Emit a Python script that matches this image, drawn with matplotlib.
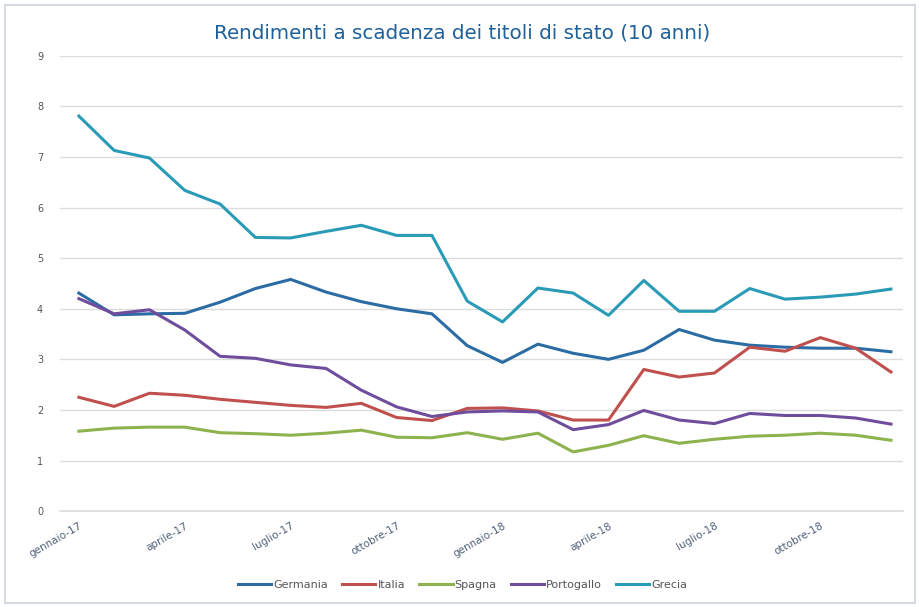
import matplotlib
matplotlib.use("Agg")
import matplotlib.pyplot as plt
from matplotlib.patches import Rectangle

months = ["gennaio-17", "febbraio-17", "marzo-17", "aprile-17", "maggio-17", "giugno-17",
          "luglio-17", "agosto-17", "settembre-17", "ottobre-17", "novembre-17", "dicembre-17",
          "gennaio-18", "febbraio-18", "marzo-18", "aprile-18", "maggio-18", "giugno-18",
          "luglio-18", "agosto-18", "settembre-18", "ottobre-18", "novembre-18", "dicembre-18"]

germania = [4.31, 3.88, 3.90, 3.91, 4.13, 4.40, 4.58, 4.33, 4.14, 4.00, 3.90, 3.27,
            2.94, 3.30, 3.12, 3.00, 3.18, 3.59, 3.38, 3.28, 3.24, 3.22, 3.22, 3.15]
italia = [2.25, 2.07, 2.33, 2.29, 2.21, 2.15, 2.09, 2.05, 2.13, 1.85, 1.79, 2.03,
          2.04, 1.98, 1.80, 1.80, 2.80, 2.65, 2.73, 3.24, 3.16, 3.43, 3.22, 2.75]
spagna = [1.58, 1.64, 1.66, 1.66, 1.55, 1.53, 1.50, 1.54, 1.60, 1.46, 1.45, 1.55,
          1.42, 1.54, 1.17, 1.30, 1.49, 1.34, 1.42, 1.48, 1.50, 1.54, 1.50, 1.40]
portogallo = [4.20, 3.90, 3.98, 3.58, 3.06, 3.02, 2.89, 2.82, 2.39, 2.06, 1.87, 1.96,
              1.98, 1.96, 1.61, 1.71, 1.99, 1.80, 1.73, 1.93, 1.89, 1.89, 1.84, 1.72]
grecia = [7.81, 7.13, 6.98, 6.34, 6.07, 5.41, 5.40, 5.53, 5.65, 5.45, 5.45, 4.15,
          3.74, 4.41, 4.31, 3.87, 4.56, 3.95, 3.95, 4.40, 4.19, 4.23, 4.29, 4.39]

series = [("Germania", germania, "#2C6CA4"),
          ("Italia", italia, "#C0504D"),
          ("Spagna", spagna, "#8DB24E"),
          ("Portogallo", portogallo, "#6E4E9C"),
          ("Grecia", grecia, "#2A9BB6")]

fig = plt.figure(figsize=(9.2, 6.07), dpi=100)
fig.patches.append(Rectangle((0.005, 0.006), 0.99, 0.985, transform=fig.transFigure,
                             fill=False, edgecolor="#D3DAE2", linewidth=1.5))
ax = fig.add_axes([0.065, 0.158, 0.9165, 0.75])

x = list(range(len(months)))
for name, vals, col in series:
    ax.plot(x, vals, color=col, linewidth=2.2, label=name, solid_joinstyle="round")

ax.set_ylim(0, 9)
ax.set_yticks(range(0, 10))
ax.set_xlim(-0.54, 23.34)
ax.set_xticks(x[::3])
ax.set_xticklabels(months[::3], rotation=30, ha="right", rotation_mode="anchor",
                   fontsize=7.5, color="#4F5F78")
ax.tick_params(axis="x", length=0, pad=7)
ax.tick_params(axis="y", length=0, labelsize=7, colors="#555555", pad=12)
ax.grid(axis="y", color="#DCDCDC", linewidth=1)
ax.axhline(0, color="#DCDCDC", linewidth=1.2, clip_on=False, zorder=0)
ax.set_axisbelow(True)
for s in ax.spines.values():
    s.set_visible(False)

fig.text(0.502, 0.945, "Rendimenti a scadenza dei titoli di stato (10 anni)",
         ha="center", va="center", fontsize=14.3, color="#1D609A")

leg = fig.legend(loc="center", bbox_to_anchor=(0.503, 0.036), ncol=5, frameon=False,
                 fontsize=8, handlelength=3.0, handletextpad=0.2, columnspacing=1.25)
for t in leg.get_texts():
    t.set_color("#555555")

fig.savefig("out.png", dpi=100, facecolor="white")
